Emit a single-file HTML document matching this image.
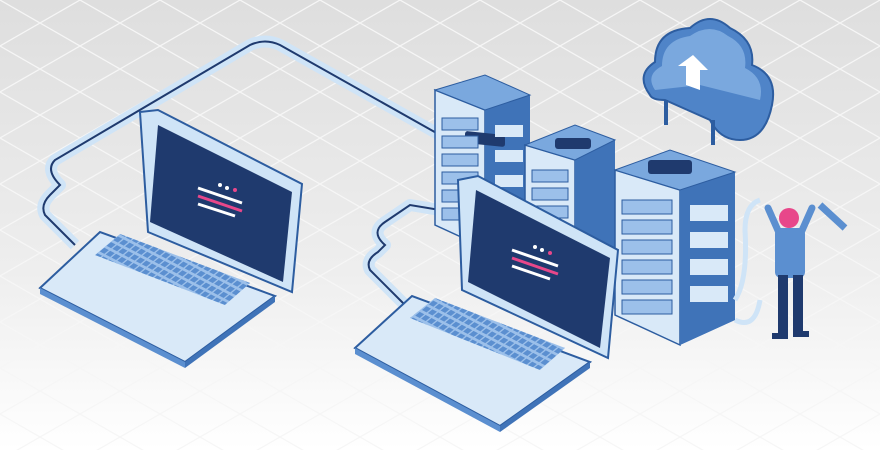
<!DOCTYPE html>
<html><head><meta charset="utf-8"><style>
html,body{margin:0;padding:0;width:880px;height:450px;overflow:hidden;background:#fff}
svg{display:block}
</style></head><body>
<svg width="880" height="450" viewBox="0 0 880 450" xmlns="http://www.w3.org/2000/svg">
<defs>
<linearGradient id="bg" x1="0" y1="0" x2="0" y2="1">
<stop offset="0" stop-color="#dedede"/><stop offset="0.6" stop-color="#eeeeee"/><stop offset="1" stop-color="#ffffff"/>
</linearGradient>
<pattern id="grid" width="80" height="46" patternUnits="userSpaceOnUse">
<path d="M0 0 L80 46 M80 0 L0 46" stroke="#f6f6f6" stroke-width="1.2" fill="none"/>
</pattern>
<pattern id="keys" width="9" height="6" patternUnits="userSpaceOnUse" patternTransform="skewX(-40) rotate(20)">
<rect x="0" y="0" width="7" height="4" fill="#5b8fd0"/>
</pattern>
</defs>
<rect width="880" height="450" fill="url(#bg)"/>
<rect width="880" height="450" fill="url(#grid)"/>

<!-- cables -->
<path d="M75 245 L45 215 Q40 205 50 195 L60 185 Q45 170 55 160 L250 45 Q265 38 280 45 L440 135" stroke="#cfe4f7" stroke-width="12" fill="none" stroke-linejoin="round"/>
<path d="M75 245 L45 215 Q40 205 50 195 L60 185 Q45 170 55 160 L250 45 Q265 38 280 45 L440 135" stroke="#1f3a6e" stroke-width="2" fill="none"/>
<path d="M405 305 L370 270 Q365 260 378 252 L385 245 Q370 232 385 222 L410 205 L440 210" stroke="#cfe4f7" stroke-width="12" fill="none" stroke-linejoin="round"/>
<path d="M405 305 L370 270 Q365 260 378 252 L385 245 Q370 232 385 222 L410 205 L440 210" stroke="#1f3a6e" stroke-width="2" fill="none"/>

<!-- server towers -->
<g>
<polygon points="435,90 485,75 530,95 530,225 485,248 435,225" fill="#5b8fd0"/>
<polygon points="435,90 485,110 485,248 435,225" fill="#d9e9f8" stroke="#2d5da0" stroke-width="1.5"/>
<polygon points="485,110 530,95 530,225 485,248" fill="#3f73b8"/>
<polygon points="435,90 485,75 530,95 485,110" fill="#7aa8de" stroke="#2d5da0"/>
<rect x="465" y="82" width="40" height="12" rx="3" fill="#1f3a6e" transform="skewY(6)"/>
<g fill="#9cc0ea" stroke="#2d5da0"><rect x="442" y="118" width="36" height="12"/><rect x="442" y="136" width="36" height="12"/><rect x="442" y="154" width="36" height="12"/><rect x="442" y="172" width="36" height="12"/><rect x="442" y="190" width="36" height="12"/><rect x="442" y="208" width="36" height="12"/></g>
<g fill="#d9e9f8"><rect x="495" y="125" width="28" height="12"/><rect x="495" y="150" width="28" height="12"/><rect x="495" y="175" width="28" height="12"/></g>
</g>
<g>
<polygon points="525,145 575,125 615,140 615,270 575,290 525,270" fill="#5b8fd0"/>
<polygon points="525,145 575,160 575,290 525,270" fill="#d9e9f8" stroke="#2d5da0" stroke-width="1.5"/>
<polygon points="575,160 615,140 615,270 575,290" fill="#3f73b8"/>
<polygon points="525,145 575,125 615,140 575,160" fill="#7aa8de" stroke="#2d5da0"/>
<rect x="555" y="138" width="36" height="11" rx="3" fill="#1f3a6e"/>
<g fill="#9cc0ea" stroke="#2d5da0"><rect x="532" y="170" width="36" height="12"/><rect x="532" y="188" width="36" height="12"/><rect x="532" y="206" width="36" height="12"/><rect x="532" y="224" width="36" height="12"/><rect x="532" y="242" width="36" height="12"/></g>
</g>
<g>
<polygon points="615,170 670,150 735,172 735,320 680,345 615,315" fill="#5b8fd0"/>
<polygon points="615,170 680,190 680,345 615,315" fill="#d9e9f8" stroke="#2d5da0" stroke-width="1.5"/>
<polygon points="680,190 735,172 735,320 680,345" fill="#3f73b8"/>
<polygon points="615,170 670,150 735,172 680,190" fill="#7aa8de" stroke="#2d5da0"/>
<rect x="648" y="160" width="44" height="14" rx="3" fill="#1f3a6e"/>
<g fill="#9cc0ea" stroke="#2d5da0"><rect x="622" y="200" width="50" height="14"/><rect x="622" y="220" width="50" height="14"/><rect x="622" y="240" width="50" height="14"/><rect x="622" y="260" width="50" height="14"/><rect x="622" y="280" width="50" height="14"/><rect x="622" y="300" width="50" height="14"/></g>
<g fill="#d9e9f8"><rect x="690" y="205" width="38" height="16"/><rect x="690" y="232" width="38" height="16"/><rect x="690" y="259" width="38" height="16"/><rect x="690" y="286" width="38" height="16"/></g>
</g>

<!-- cloud -->
<path d="M650 95 Q635 75 655 62 Q655 30 690 28 Q710 10 730 28 Q755 40 752 65 Q778 75 772 105 Q765 140 740 140 Q720 140 710 120 L665 100 Q652 100 650 95 Z" fill="#4f84c8" stroke="#2d5da0" stroke-width="2"/>
<path d="M655 90 Q645 75 662 66 Q662 40 690 36 Q710 22 728 36 Q748 46 745 68 Q765 78 760 100 L700 85 Z" fill="#7aa8de"/>
<polygon points="693,55 708,70 700,70 700,90 686,85 686,66 678,66" fill="#fff"/>
<path d="M666 100 L666 125 M713 120 L713 145" stroke="#2d5da0" stroke-width="4"/>

<!-- cable to person -->
<path d="M735 300 Q748 280 745 230 Q745 205 760 200" stroke="#cfe4f7" stroke-width="5" fill="none"/>
<path d="M735 320 Q755 330 760 300" stroke="#cfe4f7" stroke-width="5" fill="none"/>
<path d="M820 205 L845 228" stroke="#5b8fd0" stroke-width="7"/>

<!-- person -->
<g>
<path d="M768 208 L780 235" stroke="#5b8fd0" stroke-width="7" stroke-linecap="round"/>
<path d="M812 208 L800 235" stroke="#5b8fd0" stroke-width="7" stroke-linecap="round"/>
<circle cx="789" cy="218" r="10" fill="#e8478a"/>
<rect x="775" y="228" width="30" height="50" rx="6" fill="#5b8fd0"/>
<rect x="778" y="275" width="10" height="60" fill="#1f3a6e"/>
<rect x="793" y="275" width="10" height="58" fill="#1f3a6e"/>
<rect x="772" y="333" width="16" height="6" fill="#1f3a6e"/>
<rect x="793" y="331" width="16" height="6" fill="#1f3a6e"/>
</g>

<!-- left laptop -->
<polygon points="40,288 100,232 275,296 185,362" fill="#d9e9f8" stroke="#2d5da0" stroke-width="2"/>
<polygon points="40,288 185,362 185,368 40,294" fill="#5b8fd0"/>
<polygon points="185,362 275,296 275,302 185,368" fill="#3f73b8"/>
<polygon points="95,255 120,234 250,283 225,305" fill="#9cc0ea"/>
<polygon points="95,255 120,234 250,283 225,305" fill="url(#keys)"/>
<polygon points="140,112 158,110 302,184 292,292 148,232" fill="#cfe4f7" stroke="#2d5da0" stroke-width="2"/>
<polygon points="158,125 292,192 283,282 150,222" fill="#1f3a6e"/>
<g stroke-width="3"><path d="M198 188 L242 203" stroke="#fff"/><path d="M198 196 L242 211" stroke="#e8478a"/><path d="M198 204 L235 216" stroke="#fff"/></g>
<circle cx="220" cy="185" r="2" fill="#fff"/><circle cx="227" cy="188" r="2" fill="#fff"/><circle cx="235" cy="190" r="2" fill="#e8478a"/>

<!-- right laptop -->
<polygon points="355,348 412,296 590,362 500,426" fill="#d9e9f8" stroke="#2d5da0" stroke-width="2"/>
<polygon points="355,348 500,426 500,432 355,354" fill="#5b8fd0"/>
<polygon points="500,426 590,362 590,368 500,432" fill="#3f73b8"/>
<polygon points="410,318 435,298 565,348 540,370" fill="#9cc0ea"/>
<polygon points="410,318 435,298 565,348 540,370" fill="url(#keys)"/>
<polygon points="458,180 478,176 618,250 608,358 462,290" fill="#cfe4f7" stroke="#2d5da0" stroke-width="2"/>
<polygon points="476,190 610,258 600,348 468,282" fill="#1f3a6e"/>
<g stroke-width="3"><path d="M512 250 L558 266" stroke="#fff"/><path d="M512 258 L558 274" stroke="#e8478a"/><path d="M512 266 L550 279" stroke="#fff"/></g>
<circle cx="535" cy="247" r="2" fill="#fff"/><circle cx="542" cy="250" r="2" fill="#fff"/><circle cx="550" cy="253" r="2" fill="#e8478a"/>
</svg>
</body></html>
